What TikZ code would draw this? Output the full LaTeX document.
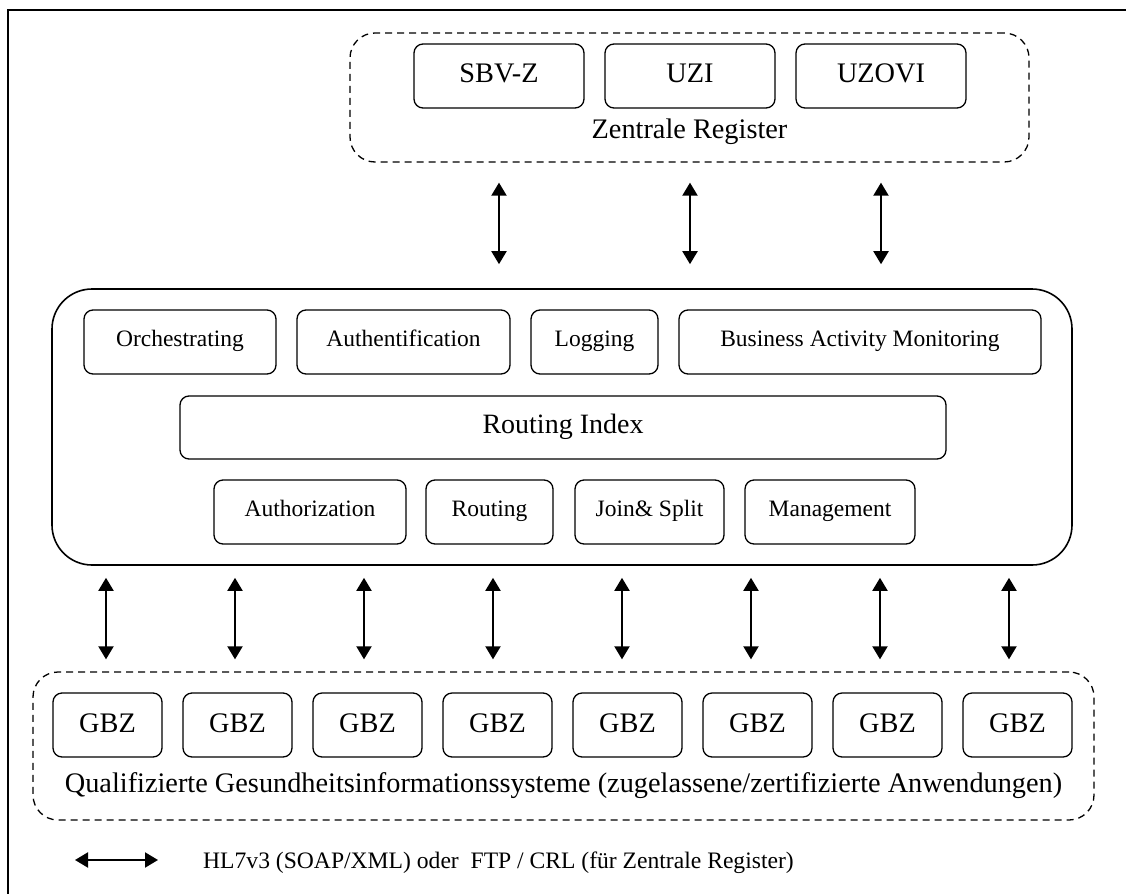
\documentclass[tikz,border=0pt]{standalone}
\usepackage{fontspec}
\setmainfont{Liberation Serif}
\usetikzlibrary{arrows.meta}
\newcommand{\biarrow}{{Triangle[length=13pt,width=15pt]}-{Triangle[length=13pt,width=15pt]}}

\begin{document}
\begin{tikzpicture}[x=1pt,y=-1pt,
    module/.style={draw,line width=1.3pt,rounded corners=9pt,minimum height=64pt,inner sep=0pt,
        font=\fontsize{23.5}{28}\selectfont,text height=14pt,text depth=6pt},
    register/.style={module,minimum width=170pt,font=\fontsize{28.3}{33}\selectfont,text height=19pt,text depth=7pt},
    gbzbox/.style={module,minimum width=109pt,font=\fontsize{28.3}{33}\selectfont,text height=20pt,text depth=6pt},
    group/.style={draw,line width=1.3pt,dash pattern=on 7pt off 5pt,rounded corners=25pt,inner sep=0pt},
    bigtext/.style={anchor=base,inner sep=0pt,font=\fontsize{28.3}{33}\selectfont},
    link/.style={line width=2pt}]
                \useasboundingbox (0,0) rectangle (1126,894);
                \draw[line width=2pt] (1126,10) -- (8,10) -- (8,894);
                % zentrale register
                \node[group,minimum width=679pt,minimum height=129pt] (zreg) at (689.5,97.5) {};
                \node[register] (sbvz) at (499,76) {SBV-Z};
                \node[register] (uzi) at (690,76) {UZI};
                \node[register] (uzovi) at (881,76) {UZOVI};
                \node[bigtext] (zlabel) at (689.5,138) {Zentrale Register};
                % middle layer
                \node[draw,line width=1.6pt,rounded corners=40pt,minimum width=1020pt,minimum height=276pt] (esb) at (562,427) {};
                \node[module,minimum width=192pt] (orch) at (180,342) {Orchestrating};
                \node[module,minimum width=213pt] (authn) at (403.5,342) {Authentification};
                \node[module,minimum width=127pt] (logging) at (594.5,342) {Logging};
                \node[module,minimum width=362pt] (bam) at (860,342) {Business Activity Monitoring};
                \node[module,minimum width=766pt,minimum height=63pt,font=\fontsize{28}{33}\selectfont,text height=19pt,text depth=8pt] (rindex) at (563,427.5) {Routing Index};
                \node[module,minimum width=192pt] (authz) at (310,512) {Authorization};
                \node[module,minimum width=127pt] (routing) at (489.5,512) {Routing};
                \node[module,minimum width=149pt] (join) at (649.5,512) {Join\& Split};
                \node[module,minimum width=170pt] (mgmt) at (830,512) {Management};
                % gbz layer
                \node[group,minimum width=1061pt,minimum height=148pt] (qgis) at (563.5,746) {};
                \foreach \i in {1,...,8}
                    \node[gbzbox] (gbz\i) at ({107.5+130*(\i-1)},725) {GBZ};
                \node[bigtext] (qlabel) at (563.5,792) {Qualifizierte Gesundheitsinformationssysteme (zugelassene/zertifizierte Anwendungen)};
                % connections
                \foreach \r in {sbvz,uzi,uzovi}
                    \draw[link,\biarrow,shorten <=20pt,shorten >=24pt] (zreg.south -| \r) -- (esb.north -| \r);
                \foreach \i in {1,...,8}
                    \draw[link,\biarrow,shorten <=12pt,shorten >=12pt] ([xshift={-0.5-\i}]esb.south -| gbz\i) -- ([xshift={-0.5-\i}]qgis.north -| gbz\i);
                % legend
                \coordinate (leg-a) at (75,860);
                \coordinate (leg-b) at (158,860);
                \draw[link,\biarrow] (leg-a) -- (leg-b);
                \node[anchor=base west,inner sep=0pt,font=\fontsize{23.6}{28}\selectfont] (legtext) at (203,868) {HL7v3 (SOAP/XML) oder\ \ FTP / CRL (für Zentrale Register)};
            \end{tikzpicture}
\end{document}
